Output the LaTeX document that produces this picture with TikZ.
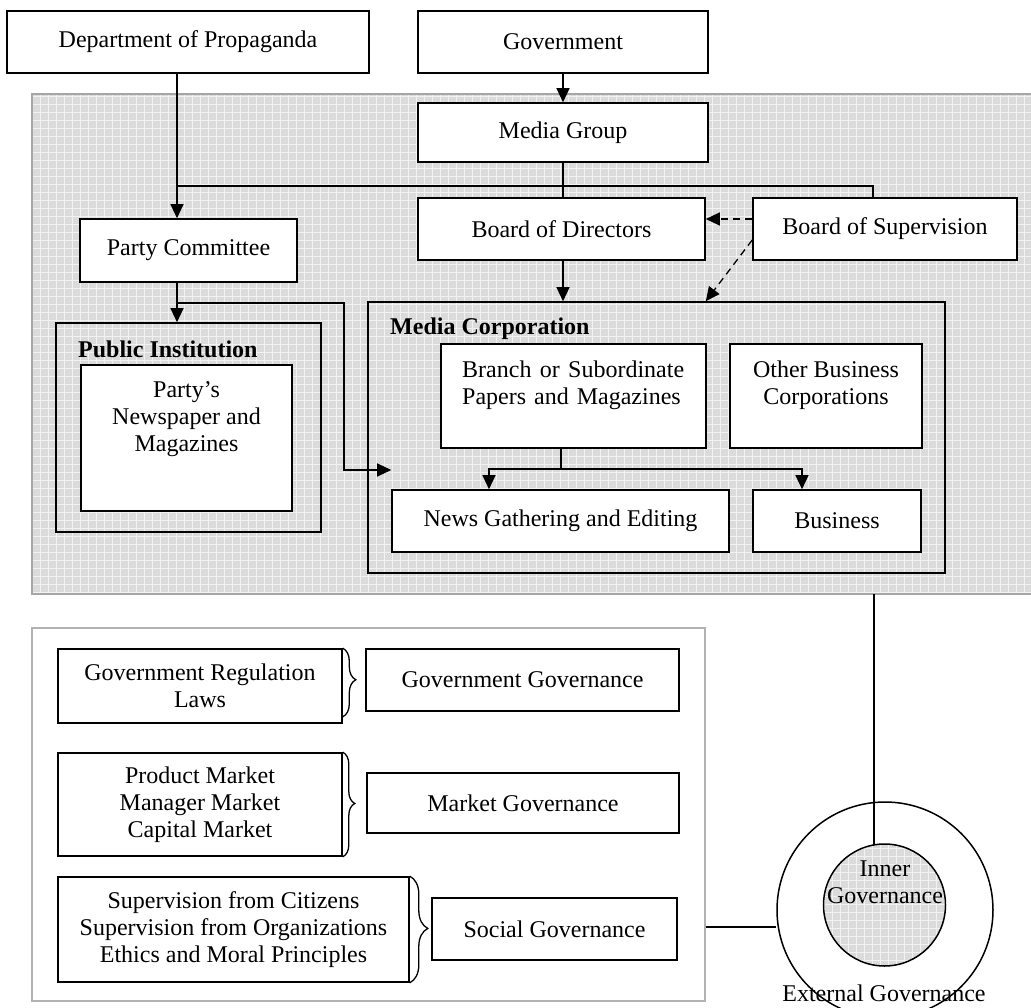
\documentclass[tikz,border=0pt]{standalone}
\usepackage{fontspec}
\setmainfont{Liberation Serif}
\usetikzlibrary{arrows.meta,decorations.pathreplacing}
\tikzset{
  every node/.style={font=\fontsize{24}{27}\selectfont},
  box/.style={draw, line width=1.6pt, fill=white, inner sep=0pt, align=center},
  conn/.style={line width=1.3pt},
  arr/.style={conn, -{Triangle[length=14pt,width=13pt]}},
  darr/.style={arr, dash pattern=on 7pt off 5pt},
  brc/.style={decorate, line width=1.3pt},
  ttl/.style={font=\fontsize{24}{27}\selectfont\bfseries, inner sep=0pt},
  txt/.style={inner sep=0pt, align=center},
  patbg/.style={black!14},
  patgrid/.style={black!5, line width=0.6pt},
}
\begin{document}
\begin{tikzpicture}[x=1pt,y=-1pt]
\useasboundingbox (0,0) rectangle (1031,1008);
\clip (0,0) rectangle (1031,1008);

% shaded region
\begin{scope}
  \clip (32,94) rectangle (1035,594);
  \fill[patbg] (32,94) rectangle (1035,594);
  \draw[patgrid, step=8pt] (32,94) grid (1035,594);
\end{scope}
\draw[black!35, line width=1.5pt] (1035,94) -- (32,94) -- (32,594) -- (1035,594);

% top boxes
\node[box, minimum width=362pt, minimum height=62pt] (dept) at (188,42) {Department of Propaganda};
\node[box, minimum width=290pt, minimum height=62pt] (gov) at (563,42) {Government};
\node[box, minimum width=290pt, minimum height=59pt] (mg) at (563,132.5) {Media Group};
\node[box, minimum width=287pt, minimum height=62pt] (bod) at (561.5,229) {Board of Directors};
\node[box, minimum width=264pt, minimum height=62pt] (bos) at (885,229) {Board of Supervision};
\node[box, minimum width=217pt, minimum height=63pt] (pc) at (188.5,250.5) {Party Committee};

% media corporation
\node[box, fill=none, minimum width=577pt, minimum height=271pt] (mc) at (656.5,437.5) {};
\node[ttl, anchor=base west] (mct) at (390,335) {Media Corporation};
\node[box, minimum width=265pt, minimum height=104pt] (br) at (573.5,396) {};
\node[inner sep=0pt, text width=222pt, align=left, anchor=north west] (brt) at (462,361) {Branch\hfill or\hfill Subordinate\\Papers and Magazines};
\node[box, minimum width=192pt, minimum height=104pt] (ob) at (826,396) {};
\node[txt, anchor=north] (obt) at (826,361) {Other Business\\Corporations};
\node[box, minimum width=337pt, minimum height=62pt] (ng) at (560.5,521) {News Gathering and Editing};
\node[box, minimum width=168pt, minimum height=62pt] (bu) at (837,521) {Business};

% public institution
\node[box, fill=none, minimum width=265pt, minimum height=209pt] (pi) at (188.5,427.5) {};
\node[ttl, anchor=base west] (pit) at (78,358) {Public Institution};
\node[box, minimum width=211pt, minimum height=146pt] (pn) at (186.5,438) {};
\node[txt, anchor=north] (pnt) at (186.5,381) {Party’s\\Newspaper and\\Magazines};

% connectors top
\coordinate (dx) at (177,0);
\coordinate (sx) at (873,0);
\coordinate (j1) at (177,186);
\coordinate (j2) at (177,303);
\coordinate (j3) at (344,303);
\coordinate (j4) at (344,470);
\coordinate (bx) at (561,469);
\coordinate (na) at (489,469);
\coordinate (ba) at (802,469);

\draw[arr] (gov.south) -- (mg.north);
\draw[arr] (dept.south -| dx) -- (pc.north -| dx);
\draw[conn] (j1) -- (sx |- j1) -- (sx |- bos.north);
\draw[conn] (mg.south) -- (mg.south |- bod.north);
\draw[arr] (bod.south -| mg.south) -- (mg.south |- mc.north);
\draw[darr] ([yshift=10pt]bos.west) -- ([yshift=10pt]bos.west -| bod.east);
\draw[darr] ([yshift=-11pt]bos.west) -- (bod.east |- mc.north);
\draw[arr] (pc.south -| dx) -- (pi.north -| dx);
\draw[arr] (j2) -- (j3) -- (j4) -- (ng.west |- j4);
\draw[conn] (br.south -| bx) -- (bx);
\draw[arr] (bx) -- (na) -- (na |- ng.north);
\draw[arr] (bx) -- (ba) -- (ba |- bu.north);

% lower section
\node[draw=black!30, line width=1.5pt, minimum width=673pt, minimum height=373pt, inner sep=0pt] (low) at (368.5,814.5) {};
\node[box, minimum width=284pt, minimum height=74pt] (gr) at (200,686) {Government Regulation\\Laws};
\node[box, minimum width=313pt, minimum height=62pt] (gg) at (522.5,680) {Government Governance};
\node[box, minimum width=284pt, minimum height=103pt] (pm) at (200,804.5) {Product Market\\Manager Market\\Capital Market};
\node[box, minimum width=312pt, minimum height=60pt] (mgov) at (523,803) {Market Governance};
\node[box, minimum width=351pt, minimum height=105pt] (sv) at (233.5,929.5) {Supervision from Citizens\\Supervision from Organizations\\Ethics and Moral Principles};
\node[box, minimum width=245pt, minimum height=62pt] (sg) at (554.5,929) {Social Governance};

\draw[brc, decoration={brace, amplitude=13pt, aspect=0.46}] (gr.north east) -- ([yshift=7pt]gr.south east);
\draw[brc, decoration={brace, amplitude=12pt, aspect=0.49}] (pm.north east) -- (pm.south east);
\draw[brc, decoration={brace, amplitude=18pt, aspect=0.49}] (sv.north east) -- (sv.south east);

% governance circles
\node[draw, circle, line width=1.5pt, minimum size=216pt, inner sep=0pt] (outer) at (885,910) {};
\coordinate (gb) at (874,594);
\draw[conn] (gb) -- (874,860);
\begin{scope}
  \clip (884.5,905) circle[radius=61];
  \fill[patbg] (820,840) rectangle (950,970);
  \draw[patgrid, step=8pt] (820,840) grid (950,970);
\end{scope}
\node[draw, circle, line width=1.5pt, minimum size=122pt, inner sep=0pt] (inner) at (884.5,905) {};
\node[txt] (innert) at (885,882) {Inner\\Governance};
\node[txt, anchor=base] (outert) at (884,1001) {External Governance};
\draw[conn] (low.east |- 0,927) -- (outer.west |- 0,927);
\end{tikzpicture}
\end{document}
